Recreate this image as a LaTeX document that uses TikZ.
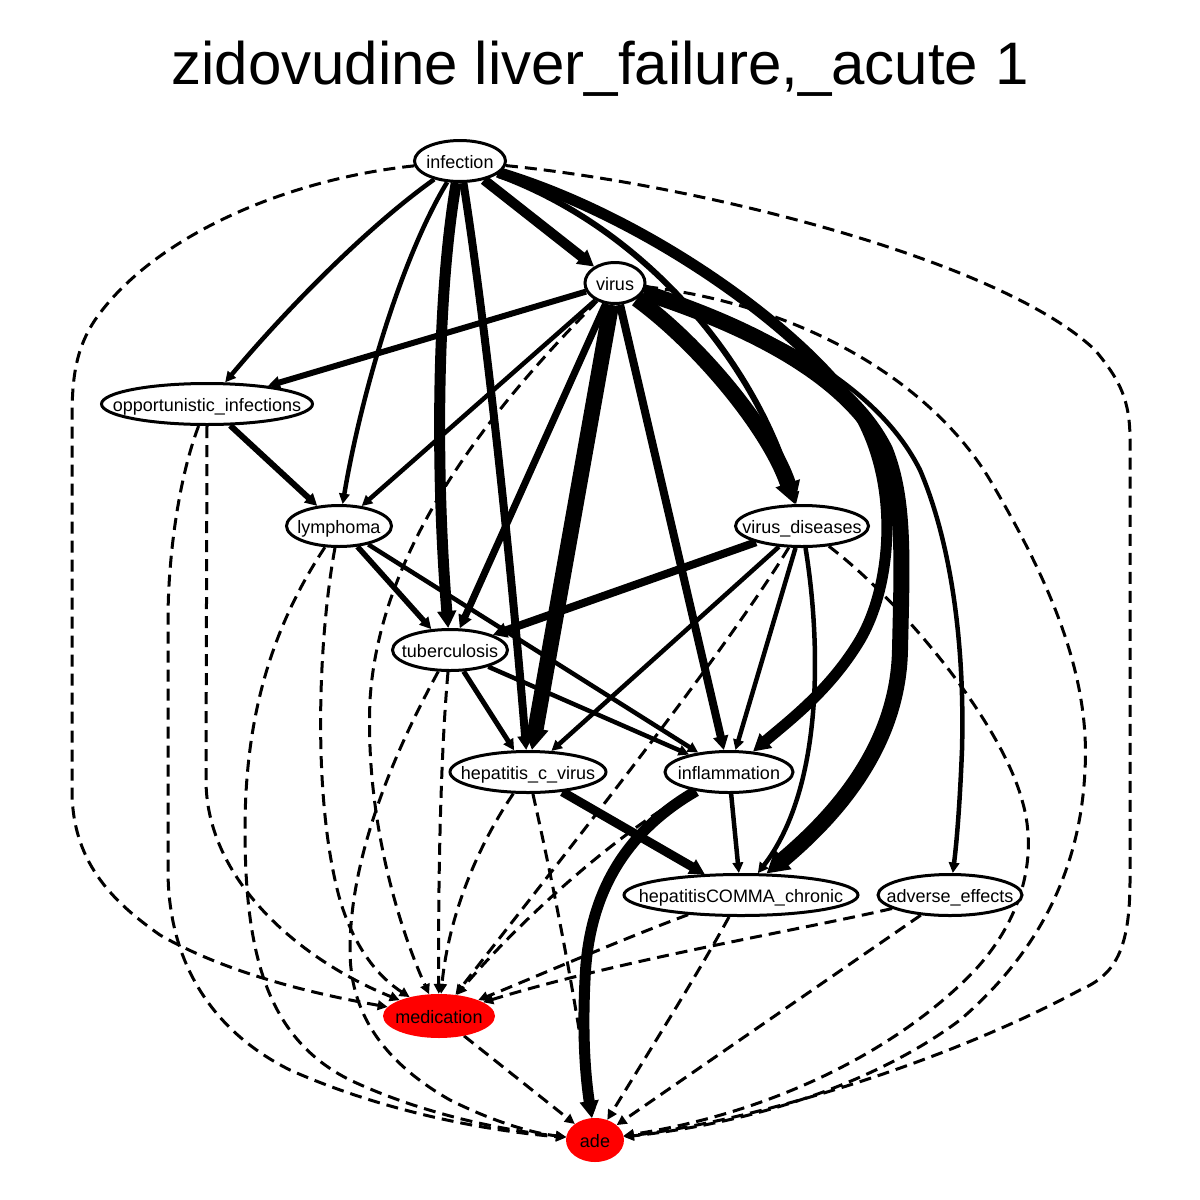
\documentclass[tikz,border=0pt]{standalone}
\usepackage{fontspec}
\setmainfont{Liberation Sans}
\usetikzlibrary{arrows.meta,shapes.geometric}
\pgfdeclarelayer{back}
\pgfdeclarelayer{edges}
\pgfsetlayers{back,edges,main}
\begin{document}
\begin{tikzpicture}[x=1pt,y=-1pt,
  nd/.style={ellipse, draw, line width=3pt, fill=white, inner sep=0pt, minimum height=41pt,
    text height=16pt, text depth=2pt, font=\fontsize{18}{20}\selectfont},
  rd/.style={ellipse, fill=red, inner sep=0pt, minimum height=44pt,
    text height=16pt, text depth=2pt, font=\fontsize{18}{20}\selectfont},
  ed/.style={line width=#1, -{Triangle[length=6pt 1, width=5pt 1.2]}},
  ed/.default=4.5pt,
  dsh/.style={line width=3pt, dash pattern=on 12pt off 7pt, -{Triangle[length=7pt 1, width=6pt 1.2]}},
]
\useasboundingbox (0,0) rectangle (1200,1200);
\begin{pgfonlayer}{back}
\fill[white] (0,0) rectangle (1200,1200);
\end{pgfonlayer}

\node[font=\fontsize{60}{72}\selectfont, anchor=base] (title) at (600,84) {zidovudine liver\_failure,\_acute 1};

\node[nd, minimum width=91pt] (infection) at (460,161) {\makebox[0pt]{infection}};
\node[nd, minimum width=60pt] (virus) at (615,283) {\makebox[0pt]{virus}};
\node[nd, minimum width=211pt] (opp) at (207,404) {\makebox[0pt]{opportunistic\_infections}};
\node[nd, minimum width=105pt] (lymphoma) at (339,526) {\makebox[0pt]{lymphoma}};
\node[nd, minimum width=133pt] (vd) at (802,526) {\makebox[0pt]{virus\_diseases}};
\node[nd, minimum width=115pt] (tb) at (450,650) {\makebox[0pt]{tuberculosis}};
\node[nd, minimum width=156pt] (hcv) at (528,772) {\makebox[0pt]{hepatitis\_c\_virus}};
\node[nd, minimum width=128pt] (infl) at (729,772) {\makebox[0pt]{inflammation}};
\node[nd, minimum width=234pt] (hcc) at (741,895) {\makebox[0pt]{hepatitisCOMMA\_chronic}};
\node[nd, minimum width=144pt] (ae) at (950,895) {\makebox[0pt]{adverse\_effects}};
\node[rd, minimum width=112pt] (med) at (439,1016) {\makebox[0pt]{medication}};
\node[rd, minimum width=58pt] (ade) at (595,1140) {\makebox[0pt]{ade}};

\begin{pgfonlayer}{edges}
% solid edges
\draw[ed=4.5pt] (infection) .. controls (370,225) and (290,305) .. (opp);
\draw[ed=4.5pt] (infection) .. controls (400,260) and (360,400) .. (lymphoma);
\draw[ed=11pt] (infection) .. controls (436,300) and (436,480) .. (tb);
\draw[ed=8pt] (infection) .. controls (485,320) and (510,550) .. (hcv);
\draw[ed=10pt] (infection) -- (virus);
\draw[ed=6pt] (infection) .. controls (650,230) and (760,370) .. (vd);
\draw[ed=11pt] (infection) .. controls (640,215) and (790,320) .. (850,400) .. controls (900,470) and (895,580) .. (860,640) .. controls (830,690) and (790,720) .. (infl);
\draw[ed=16pt] (virus) .. controls (760,330) and (850,380) .. (885,450) .. controls (905,500) and (902,560) .. (900,650) .. controls (898,750) and (830,820) .. (hcc);
\draw[ed=4.5pt] (virus) .. controls (780,330) and (880,390) .. (920,470) .. controls (950,540) and (965,640) .. (962,750) .. controls (960,800) and (957,840) .. (ae);
\draw[ed=16pt] (virus) .. controls (700,345) and (770,430) .. (vd);
\draw[ed=6pt] (virus) -- (opp);
\draw[ed=4.5pt] (virus) -- (lymphoma);
\draw[ed=7pt] (virus) -- (tb);
\draw[ed=16pt] (virus) -- (hcv);
\draw[ed=8pt] (virus) -- (infl);
\draw[ed=6pt] (opp) -- (lymphoma);
\draw[ed=5.5pt] (lymphoma) -- (tb);
\draw[ed=4.5pt] (lymphoma) -- (infl);
\draw[ed=8pt] (vd) -- (tb);
\draw[ed=4.5pt] (vd) -- (hcv);
\draw[ed=4.5pt] (vd) -- (infl);
\draw[ed=4.5pt] (vd) .. controls (822,650) and (822,790) .. (hcc);
\draw[ed=5pt] (tb) -- (hcv);
\draw[ed=4.5pt] (tb) -- (infl);
\draw[ed=4.5pt] (infl) -- (hcc);
\draw[ed=9pt] (hcv) -- (hcc);
\draw[ed=11pt] (infl) .. controls (620,835) and (588,900) .. (585,980) .. controls (582,1040) and (586,1080) .. (ade);
% dashed edges
\draw[dsh] (infection) .. controls (280,180) and (150,240) .. (95,320) .. controls (75,350) and (72,380) .. (72,420) -- (72,790) .. controls (72,860) and (110,900) .. (160,935) .. controls (230,975) and (320,995) .. (med);
\draw[dsh] (infection) .. controls (700,185) and (1000,260) .. (1095,350) .. controls (1120,380) and (1130,400) .. (1130,440) -- (1130,880) .. controls (1130,950) and (1115,975) .. (1080,990) .. controls (950,1060) and (760,1120) .. (ade);
\draw[dsh] (opp.south) -- (206,780) .. controls (206,880) and (300,960) .. (med);
\draw[dsh] (opp) .. controls (178,480) and (168,560) .. (168,620) -- (168,870) .. controls (168,960) and (210,1030) .. (290,1070) .. controls (380,1110) and (480,1130) .. (ade);
\draw[dsh] (lymphoma) .. controls (318,640) and (312,800) .. (340,900) .. controls (355,950) and (380,978) .. (med);
\draw[dsh] (lymphoma) .. controls (270,630) and (245,720) .. (245,830) .. controls (245,960) and (270,1040) .. (350,1080) .. controls (420,1113) and (500,1130) .. (ade);
\draw[dsh] (virus) .. controls (500,400) and (380,540) .. (370,700) .. controls (365,820) and (400,930) .. (med);
\draw[dsh] (virus) .. controls (800,305) and (930,380) .. (990,480) .. controls (1055,590) and (1090,680) .. (1085,770) .. controls (1080,880) and (1030,960) .. (960,1020) .. controls (880,1080) and (760,1122) .. (ade);
\draw[dsh] (vd) .. controls (900,600) and (1000,720) .. (1022,800) .. controls (1040,860) and (1020,930) .. (960,985) .. controls (880,1060) and (760,1115) .. (ade);
\draw[dsh] (tb) .. controls (440,760) and (438,900) .. (med);
\draw[dsh] (tb) .. controls (390,760) and (350,860) .. (350,950) .. controls (350,1010) and (380,1060) .. (450,1100) .. controls (490,1120) and (530,1133) .. (ade);
\draw[dsh] (hcv) .. controls (475,850) and (448,920) .. (med);
\draw[dsh] (hcv) .. controls (550,870) and (575,990) .. (ade);
\draw[dsh] (vd) .. controls (720,660) and (560,860) .. (med);
\draw[dsh] (infl) .. controls (620,830) and (520,920) .. (med);
\draw[dsh] (hcc) .. controls (620,940) and (540,975) .. (med);
\draw[dsh] (ae) .. controls (800,930) and (620,960) .. (med);
\draw[dsh] (hcc) .. controls (700,970) and (650,1050) .. (ade);
\draw[dsh] (ae) -- (ade);
\draw[dsh] (med) -- (ade);
\end{pgfonlayer}
\end{tikzpicture}
\end{document}
